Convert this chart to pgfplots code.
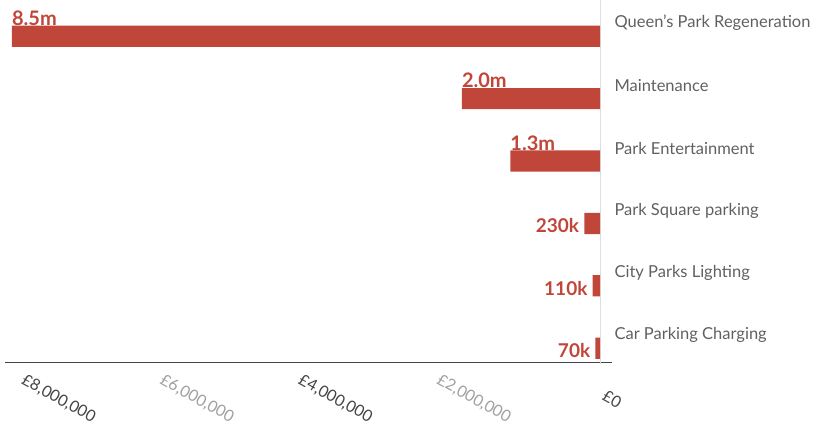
\documentclass[border=0pt]{standalone}
\usepackage{pgfplots}
\pgfplotsset{compat=1.18}
\usepackage{fontspec}
\setmainfont{Lato}
\newfontfamily\valfont{Lato}
\definecolor{barred}{HTML}{C0463A}
\definecolor{catgrey}{HTML}{606060}
\definecolor{darkt}{HTML}{444444}
\definecolor{lightt}{HTML}{A0A0A0}
\begin{document}
\begin{tikzpicture}
\useasboundingbox (-5pt,-71pt) rectangle (816pt,362pt);
\begin{axis}[
  at={(0,0)}, anchor=south west,
  scale only axis, width=607pt, height=362pt,
  x dir=reverse,
  xmin=-170000, xmax=8600000,
  ymin=-0.22, ymax=5.58,
  axis x line*=bottom, axis y line*=right,
  y axis line style={draw=none},
  x axis line style={draw=darkt, line width=0.8pt, -},
  xtick={0,2000000,4000000,6000000,8000000},
  xticklabels={{\textcolor{darkt}{£0}},{\textcolor{lightt}{£2,000,000}},{\textcolor{darkt}{£4,000,000}},{\textcolor{lightt}{£6,000,000}},{\textcolor{darkt}{£8,000,000}}},
  scaled x ticks=false,
  major tick length=0pt,
  xticklabel style={xshift=12pt, yshift=-37pt, rotate=-29, anchor=center, font=\fontsize{16}{17}\selectfont},
  ytick={0,1,2,3,4,5},
  yticklabels={Car Parking Charging, City Parks Lighting, Park Square parking, Park Entertainment, Maintenance, Queen's Park Regeneration},
  yticklabel style={anchor=west, xshift=-1pt, yshift=13pt, text=catgrey, font=\fontsize{16.5}{18}\selectfont},
  clip=false,
]
\draw[gray!25, line width=0.6pt] (axis cs:0,-0.25) -- (axis cs:0,5.58);
\addplot[xbar, bar shift=0pt, fill=barred, draw=none, bar width=0.34,
  nodes near coords, point meta=explicit symbolic,
  nodes near coords style={anchor=base west, inner sep=0pt, yshift=11pt, text=barred, font=\valfont\bfseries\fontsize{20}{22}\selectfont}]
  coordinates {(8500000,5)[8.5m] (2000000,4)[2.0m] (1300000,3)[1.3m]};
\addplot[xbar, bar shift=0pt, fill=barred, draw=none, bar width=0.34,
  nodes near coords, point meta=explicit symbolic,
  nodes near coords style={anchor=base east, inner sep=0pt, xshift=-5pt, yshift=-9.5pt, text=barred, font=\valfont\bfseries\fontsize{19}{21}\selectfont}]
  coordinates {(230000,2)[230k] (110000,1)[110k] (70000,0)[70k]};
\end{axis}
\end{tikzpicture}
\end{document}
